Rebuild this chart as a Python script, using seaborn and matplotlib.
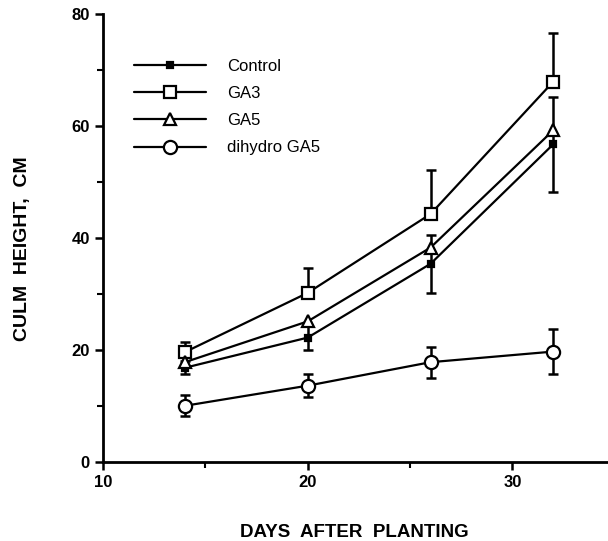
import numpy as np
import pandas as pd
import matplotlib
matplotlib.use('Agg')
import matplotlib.pyplot as plt
from matplotlib.ticker import MultipleLocator
import seaborn as sns

# 数据（从图上读出来的）
days = [14, 20, 26, 32]
control = [16.8, 22.2, 35.4, 56.8]
ga3 = [19.6, 30.2, 44.3, 68.0]
ga5 = [17.8, 25.1, 38.3, 59.3]
dihydro = [10.0, 13.6, 17.8, 19.7]

# 误差棒
control_err = [1.2, 2.2, 5.2, 8.5]
ga3_err_up = [1.9, 4.5, 7.8, 8.7]
dihydro_err = [1.9, 2.1, 2.8, 4.0]

labels = ['Control', 'GA3', 'GA5', 'dihydro GA5']

sns.set_style('ticks')
plt.rcParams['font.family'] = ['Liberation Sans', 'DejaVu Sans']
# 全部改成纯黑
for k in ['text.color', 'axes.labelcolor', 'xtick.color', 'ytick.color', 'axes.edgecolor']:
    plt.rcParams[k] = 'black'

fig = plt.figure(figsize=(6.08, 5.41), dpi=100)
ax = fig.add_axes([0.1694, 0.1466, 0.8306, 0.8266])

# 误差棒先画，放在线下面
ax.errorbar(days, control, yerr=control_err, fmt='none', ecolor='k',
            elinewidth=1.8, capsize=3.3, capthick=1.8, zorder=1)
ax.errorbar(days, ga3, yerr=[np.zeros(4), ga3_err_up], fmt='none', ecolor='k',
            elinewidth=1.8, capsize=3.3, capthick=1.8, zorder=1)
ax.errorbar(days, dihydro, yerr=dihydro_err, fmt='none', ecolor='k',
            elinewidth=1.8, capsize=3.3, capthick=1.8, zorder=1)

series = [
    (control, 's', 'k', 5),
    (ga3, 's', 'white', 9),
    (ga5, '^', 'white', 8.5),
    (dihydro, 'o', 'white', 9.5),
]
for (vals, mk, fc, ms), lab in zip(series, labels):
    df = pd.DataFrame({'day': days, 'h': vals})
    sns.lineplot(data=df, x='day', y='h', ax=ax, color='k', lw=1.6,
                 marker=mk, markersize=ms, markerfacecolor=fc,
                 markeredgecolor='k', markeredgewidth=1.6, label=lab, zorder=3)

ax.set_xlim(10, 34.67)
ax.set_ylim(0, 80)
ax.xaxis.set_major_locator(MultipleLocator(10))
ax.xaxis.set_minor_locator(MultipleLocator(5))
ax.yaxis.set_major_locator(MultipleLocator(20))
ax.yaxis.set_minor_locator(MultipleLocator(10))
ax.tick_params(which='major', direction='out', length=6, width=1.8, labelsize=12)
ax.tick_params(which='minor', direction='out', length=4, width=1.5)
for t in ax.get_xticklabels() + ax.get_yticklabels():
    t.set_fontweight('bold')

sns.despine(ax=ax)
for s in ['left', 'bottom']:
    ax.spines[s].set_linewidth(2)

ax.set_xlabel('DAYS  AFTER  PLANTING', fontsize=13.5, fontweight='bold')
ax.set_ylabel('CULM  HEIGHT,  CM', fontsize=14, fontweight='bold')
ax.xaxis.set_label_coords(0.497, -0.159)
ax.xaxis.label.set_va('center')
ax.yaxis.set_label_coords(-0.159, 0.476)
ax.yaxis.label.set_va('center')

leg = ax.legend(loc='upper left', bbox_to_anchor=(0.061, 0.9005), frameon=False,
                fontsize=12, handlelength=4.35, handletextpad=1.24,
                labelspacing=0.73, borderpad=0, borderaxespad=0)

fig.savefig('out.png', dpi=100)
